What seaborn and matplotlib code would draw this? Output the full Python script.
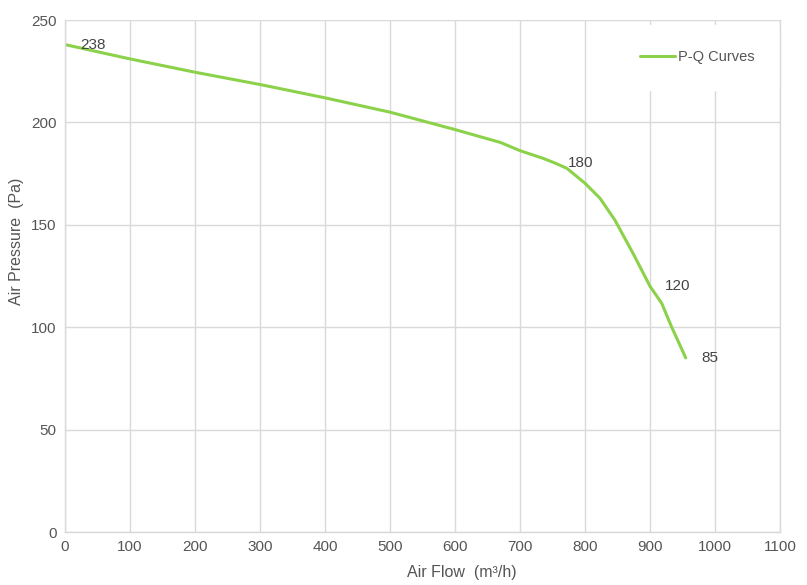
import matplotlib
matplotlib.use("Agg")
import matplotlib.pyplot as plt
import seaborn as sns
import pandas as pd

# Data
air_flow = [0, 100, 200, 300, 400, 500, 600, 670, 700, 736, 755, 772, 800, 823, 846, 874, 900, 918, 933, 955]
air_pressure = [238, 231, 224.5, 218.5, 212, 205, 196.5, 190.2, 186.2, 182.4, 180, 177.6, 170.3, 163, 152.3, 136, 120, 111.7, 100.3, 85]
label_flow = [0, 755, 900, 955]
label_pressure = [238, 180, 120, 85]
x_ticks = [0, 100, 200, 300, 400, 500, 600, 700, 800, 900, 1000, 1100]
y_ticks = [0, 50, 100, 150, 200, 250]
series_name = "P-Q Curves"

sns.set_theme(style="whitegrid")
plt.rcParams['font.family'] = ['Liberation Sans', 'DejaVu Sans']

df = pd.DataFrame({"flow": air_flow, "pressure": air_pressure, "series": series_name})

fig = plt.figure(figsize=(8.07, 5.85), dpi=100)
ax = fig.add_axes([65/807, 53/585, 715/807, 512/585])

sns.lineplot(data=df, x="flow", y="pressure", hue="series", palette=["#8CD14A"],
             linewidth=2.2, ax=ax, sort=False)

txt = "#444444"
offsets = [11, 8.6, 11, 11]
for xf, yp, dx in zip(label_flow, label_pressure, offsets):
    ax.annotate(str(yp), (xf, yp), xytext=(dx, 0), textcoords="offset points",
                fontsize=11, color=txt, va="center", ha="left")

ax.set_xlim(0, 1100)
ax.set_ylim(0, 250)
ax.set_xticks(x_ticks)
ax.set_yticks(y_ticks)
ax.set_xlabel("Air Flow  (m³/h)", fontsize=11.5, color="#555555")
ax.set_ylabel("Air Pressure  (Pa)", fontsize=11.5, color="#555555")
ax.xaxis.set_label_coords(0.555, -0.064)
ax.yaxis.set_label_coords(-0.058, 0.568)
ax.tick_params(axis="both", labelsize=11, colors="#555555", length=0, pad=6)
ax.grid(True, color="#D9D9D9", linewidth=1)
for s in ax.spines.values():
    s.set_visible(False)
for side in ["left", "bottom", "right"]:
    ax.spines[side].set_visible(True)
    ax.spines[side].set_color("#D9D9D9")
    ax.spines[side].set_linewidth(1)
    ax.spines[side].set_zorder(2.5)

leg = ax.legend(loc="upper right", bbox_to_anchor=(1.0 + 5/715, 1.0), frameon=True, fontsize=10.5,
                handlelength=2.4, borderpad=1.75, handletextpad=0.2, borderaxespad=0.34)
leg.get_frame().set_facecolor("white")
leg.get_frame().set_edgecolor("white")
leg.get_frame().set_alpha(1)
leg.set_zorder(2.4)
for t in leg.get_texts():
    t.set_color("#555555")

fig.savefig("out.png", dpi=100)
